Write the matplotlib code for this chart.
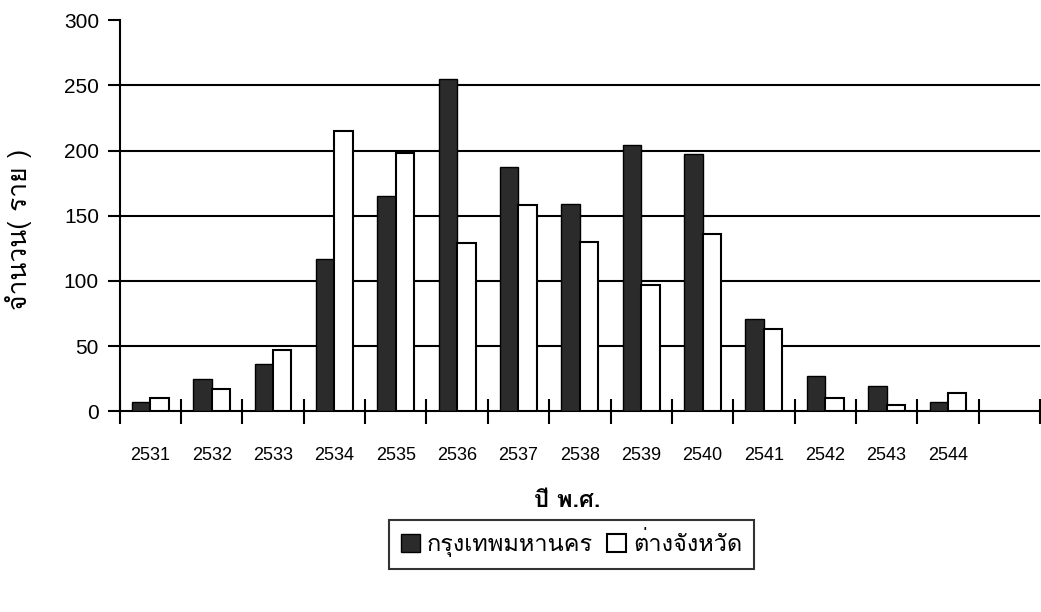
import numpy as np
import matplotlib
matplotlib.use("Agg")
import matplotlib.pyplot as plt
from matplotlib import font_manager
from matplotlib.ft2font import FT2Font

years = ["2531", "2532", "2533", "2534", "2535", "2536", "2537",
         "2538", "2539", "2540", "2541", "2542", "2543", "2544"]
bangkok = [7, 25, 36, 117, 165, 255, 187, 159, 204, 197, 71, 27, 19, 7]
provinces = [10, 17, 47, 215, 198, 129, 158, 130, 97, 136, 63, 10, 5, 14]
series_names = ["กรุงเทพมหานคร", "ต่างจังหวัด"]
x_title = "ปี พ.ศ."
y_title = "จำนวน( ราย )"


# find an installed family that has Thai glyphs
def thai_family():
    seen = set()
    for f in font_manager.fontManager.ttflist:
        if f.name in seen:
            continue
        seen.add(f.name)
        try:
            if 0x0E01 in FT2Font(f.fname).get_charmap():
                return f.name
        except Exception:
            pass
    return None


thai = thai_family()
families = ([thai] if thai else []) + ["Liberation Sans", "DejaVu Sans"]
plt.rcParams["font.family"] = families

fig = plt.figure(figsize=(10.41, 6.12), dpi=100)
ax = fig.add_axes([0.115, 0.328, 0.884, 0.639])

x = np.arange(len(years))
w = 0.3
ax.bar(x - w / 2, bangkok, w, color="#2b2b2b", edgecolor="black", linewidth=1, zorder=3)
ax.bar(x + w / 2, provinces, w, color="white", edgecolor="black", linewidth=1.5, zorder=3)

for v in [50, 100, 150, 200, 250]:
    ax.axhline(v, color="black", linewidth=1.5, zorder=1)

ax.set_xlim(-0.5, 14.5)
ax.set_ylim(0, 300)
ax.set_yticks([0, 50, 100, 150, 200, 250, 300])
ax.tick_params(axis="y", labelsize=15, length=9, width=1.5, direction="out", pad=6)
for t in ax.get_yticklabels():
    t.set_family(["Liberation Sans", "DejaVu Sans"])
ax.set_xticks(np.arange(-0.5, 15, 1))
ax.set_xticklabels([])
ax.tick_params(axis="x", length=18, width=1.5, direction="inout")
for i, yr in enumerate(years):
    ax.text(i, -34, yr, ha="center", va="center", fontsize=13,
            family=["Liberation Sans Narrow", "Liberation Sans"])

for s in ["top", "right"]:
    ax.spines[s].set_visible(False)
for s in ["left", "bottom"]:
    ax.spines[s].set_linewidth(1.5)

fig.text(0.018, 0.625, y_title, rotation=90, ha="center", va="center", fontsize=19)
fig.text(0.545, 0.183, x_title, ha="center", va="center", fontsize=17, fontweight="bold")

h = [plt.Rectangle((0, 0), 1, 1, facecolor="#2b2b2b", edgecolor="black"),
     plt.Rectangle((0, 0), 1, 1, facecolor="white", edgecolor="black", linewidth=1.5)]
leg = fig.legend(h, series_names, loc="center", bbox_to_anchor=(0.549, 0.11), ncol=2,
                 fontsize=17, frameon=True, fancybox=False, edgecolor="black",
                 handlelength=0.8, handleheight=0.8, handletextpad=0.3, columnspacing=0.6,
                 borderpad=0.5)
leg.get_frame().set_linewidth(1.5)

fig.savefig("out.png", dpi=100)
